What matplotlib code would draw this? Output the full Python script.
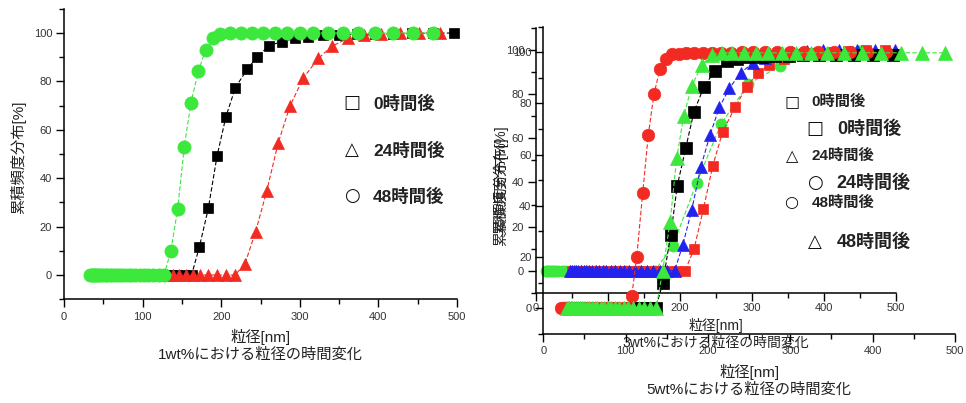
import matplotlib
matplotlib.use("Agg")
import matplotlib.pyplot as plt
from matplotlib.ticker import MultipleLocator

plt.rcParams['font.family'] = ['Liberation Sans', 'Noto Sans CJK JP', 'DejaVu Sans']

# ---------------- data: left chart (1wt%) ----------------
left_sq_x = [59.3, 63.0, 66.8, 70.9, 75.2, 79.8, 84.6, 89.8, 95.3, 101.1, 107.2, 113.8, 120.7, 128.1,
             135.9, 144.2, 153.0, 162.3, 172.2, 183.6, 194.6, 206.0, 218.0, 233.0, 246.0, 261.0,
             277.0, 294.0, 310.0, 329.0, 350.0, 373.0, 396.0, 419.0, 443.0, 470.0, 496.0]
left_sq_y = [0, 0, 0, 0, 0, 0, 0, 0, 0, 0, 0, 0, 0, 0, 0, 0, 0, 0,
             11.6, 27.5, 49.0, 65.4, 77.4, 85.0, 90.2, 94.8, 96.4, 97.8, 98.5, 99.0, 99.3, 99.4,
             99.5, 99.6, 99.8, 99.9, 100.0]

left_tri_x = [59.4, 62.9, 66.5, 70.4, 74.5, 78.8, 83.4, 88.2, 93.3, 98.7, 104.5, 110.5, 116.9, 123.7,
              130.9, 138.5, 146.5, 155.0, 164.0, 173.5, 183.6, 194.2, 205.5, 217.4,
              230.0, 243.8, 258.0, 272.6, 287.5, 304.4, 323.5, 341.3, 360.9, 381.6, 403.7, 427.0,
              451.8, 478.0]
left_tri_y = [0, 0, 0, 0, 0, 0, 0, 0, 0, 0, 0, 0, 0, 0, 0, 0, 0, 0, 0, 0, 0, 0, 0, 0,
              4.4, 17.9, 34.8, 54.7, 69.8, 81.4, 89.5, 94.6, 97.8, 99.0, 99.5, 99.8, 100.0, 100.0]

left_ci_x = [33.0, 35.0, 37.0, 39.1, 41.3, 43.7, 46.2, 48.9, 51.7, 54.7, 57.9, 61.2, 64.8, 68.5, 72.5,
             76.7, 81.1, 85.8, 90.8, 96.1, 101.6, 107.5, 113.7, 120.3, 127.3,
             136.0, 144.6, 153.0, 161.5, 170.9, 180.2, 190.0, 198.5, 211.2, 224.8, 238.8, 253.5,
             268.4, 283.3, 300.2, 317.2, 336.3, 355.4, 374.4, 395.7, 419.0, 444.4, 469.8]
left_ci_y = [0, 0, 0, 0, 0, 0, 0, 0, 0, 0, 0, 0, 0, 0, 0, 0, 0, 0, 0, 0, 0, 0, 0, 0, 0,
             10.0, 27.3, 52.9, 71.2, 84.2, 93.0, 97.8, 99.6, 100, 100, 100, 100, 100, 100, 100,
             100, 100, 100, 100, 100, 100, 100, 100]

# ---------------- data: right chart, inner (3wt%) ----------------
inner_tri_x = [47.0, 49.8, 52.7, 55.7, 58.9, 62.4, 66.0, 69.8, 73.9, 78.1, 82.7, 87.5, 92.5, 97.9,
               103.6, 109.6, 116.0, 122.7, 129.8, 137.3, 145.3, 153.7, 162.6, 172.0, 182.0, 192.6,
               203.8, 216.3, 228.8, 241.7, 254.6, 268.5, 284.3, 301.0, 318.0, 336.0, 355.1, 375.9,
               398.1, 421.2, 445.4, 470.8, 498.6]
inner_tri_y = [0, 0, 0, 0, 0, 0, 0, 0, 0, 0, 0, 0, 0, 0, 0, 0, 0, 0, 0, 0, 0, 0, 0, 0, 0, 0,
               11.6, 27.5, 46.9, 61.5, 74.0, 82.6, 89.7, 94.0, 96.5, 98.0, 99.0, 99.5, 99.8, 100,
               100, 100, 100]

inner_sq_x = [50.5, 53.5, 56.6, 59.9, 63.3, 67.0, 70.9, 75.0, 79.4, 84.0, 88.8, 94.0, 99.4, 105.2,
              111.3, 117.8, 124.6, 131.8, 139.5, 147.6, 156.1, 165.2, 174.8, 184.9, 195.7, 207.0,
              219.4, 232.4, 245.4, 259.3, 276.4, 292.6, 308.8, 324.0, 345.0, 366.0, 388.0, 411.0,
              434.0, 459.0, 485.0]
inner_sq_y = [0, 0, 0, 0, 0, 0, 0, 0, 0, 0, 0, 0, 0, 0, 0, 0, 0, 0, 0, 0, 0, 0, 0, 0, 0, 0,
              9.7, 27.8, 47.4, 63.0, 74.0, 83.4, 89.7, 93.2, 96.0, 97.5, 98.5, 99.2, 99.6, 100, 100]

inner_ci_x = [13.4, 15.4, 17.7, 20.3, 23.4, 26.9, 30.9, 35.5, 40.8, 47.0, 54.0, 62.1, 71.4, 82.1,
              94.4, 108.6, 124.9, 143.6, 165.1, 189.9, 223.2, 257.0, 294.9, 338.9, 390.0, 449.0]
inner_ci_y = [0, 0, 0, 0, 0, 0, 0, 0, 0, 0, 0, 0, 0, 0, 0, 0, 0, 0, 0,
              11.2, 39.9, 66.5, 84.6, 92.8, 97.5, 99.5]

# ---------------- data: right chart, outer (5wt%) ----------------
outer_sq_x = [107.4, 114.0, 121.1, 128.6, 136.5, 145.0, 154.7, 162.7, 172.9, 183.0, 195.2, 208.5,
              222.7, 235.5, 250.0, 265.0, 281.0, 298.0, 316.0, 335.0, 355.0, 377.0, 400.0, 425.0]
outer_sq_y = [0, 0, 0, 0, 0, 9.8, 28.6, 47.9, 62.5, 76.8, 86.6, 92.8, 96.7, 97.5, 98.0, 98.3,
              98.5, 98.7, 98.8, 98.9, 99.0, 99.0, 99.0, 99.0]

outer_ci_x = [22.1, 23.4, 24.7, 26.0, 27.5, 29.0, 30.7, 32.4, 34.2, 36.1, 38.1, 40.3, 42.5, 44.9,
              47.4, 50.1, 52.9, 55.8, 59.0, 62.3, 65.8, 69.4, 73.3, 77.4, 81.8, 86.4, 91.2, 96.3,
              101.7, 107.4, 113.4, 120.7, 127.5, 134.4, 141.7, 149.0, 155.9, 164.6, 173.8, 183.6,
              193.9, 204.7, 216.2, 228.3, 241.0, 254.5, 268.8, 283.8, 299.7, 316.5, 334.2, 352.9,
              372.7, 393.5, 415.6]
outer_ci_y = [0, 0, 0, 0, 0, 0, 0, 0, 0, 0, 0, 0, 0, 0, 0, 0, 0, 0, 0, 0, 0, 0, 0, 0, 0, 0, 0, 0, 0,
              4.8, 19.9, 45.0, 67.7, 83.7, 93.5, 97.3, 99.2, 99.5, 99.6, 99.7, 99.8, 99.8, 99.9,
              99.9, 100, 100, 100, 100, 100, 100, 100, 100, 100, 100, 100]

outer_tri_x = [28.2, 29.9, 31.6, 33.4, 35.4, 37.4, 39.6, 41.9, 44.3, 46.9, 49.6, 52.5, 55.6, 58.8,
               62.2, 65.8, 69.7, 73.7, 78.0, 82.5, 87.3, 92.3, 97.7, 103.4, 109.4, 115.7, 122.4,
               129.5, 137.0, 145.0, 154.0, 162.0, 170.5, 180.5, 192.4, 204.5, 216.7, 229.6, 243.3,
               257.8, 273.2, 289.5, 306.8, 325.1, 344.5, 365.1, 386.9, 410.0, 434.5, 460.4, 487.8]
outer_tri_y = [0, 0, 0, 0, 0, 0, 0, 0, 0, 0, 0, 0, 0, 0, 0, 0, 0, 0, 0, 0, 0, 0, 0, 0, 0, 0, 0, 0, 0,
               14.7, 33.8, 58.6, 75.2, 87.0, 95.0, 99.0, 99.8, 99.8, 99.8, 99.8, 99.8, 99.8, 99.8,
               99.8, 99.8, 99.8, 99.8, 99.8, 99.8, 99.8, 99.8]

legend_labels = ['0時間後', '24時間後', '48時間後']
x_label = '粒径[nm]'
y_label = '累積頻度分布[%]'
title_left = '1wt%における粒径の時間変化'
title_inner = '3wt%における粒径の時間変化'
title_outer = '5wt%における粒径の時間変化'

GREEN = '#3be83b'
RED = '#f22a22'
BLUE = '#2222ee'
BLACK = '#000000'
TICKC = '#333333'

W, H = 966, 403
fig = plt.figure(figsize=(W / 100, H / 100), dpi=100)


def box(x0, x1, ytop, ybot):
    return [x0 / W, 1 - ybot / H, (x1 - x0) / W, (ybot - ytop) / H]


axL = fig.add_axes(box(64, 457, 8.8, 299.2))
axI = fig.add_axes(box(536, 896, 27.9, 292.8))
axO = fig.add_axes(box(543.3, 955, 26.7, 333.9))


def style(ax, xpad, fs=8):
    ax.patch.set_alpha(0)
    for s in ('top', 'right'):
        ax.spines[s].set_visible(False)
    for s in ('left', 'bottom'):
        ax.spines[s].set_linewidth(1.1)
    ax.set_xlim(0, 500)
    ax.set_ylim(-10, 110)
    ax.xaxis.set_major_locator(MultipleLocator(100))
    ax.xaxis.set_minor_locator(MultipleLocator(50))
    ax.yaxis.set_major_locator(MultipleLocator(20))
    ax.yaxis.set_minor_locator(MultipleLocator(10))
    ax.tick_params(which='major', direction='out', length=6, width=1.0, labelsize=fs,
                   labelcolor=TICKC)
    ax.tick_params(which='minor', direction='out', length=3.5, width=1.0)
    ax.tick_params(axis='x', which='major', pad=xpad)
    ax.tick_params(axis='y', which='major', pad=2.5)


def series(ax, x, y, color, marker, ms, z):
    ax.plot(x, y, color=color, lw=0.8, ls=(0, (4, 2)), marker=marker, ms=ms,
            mfc=color, mec=color, mew=0.5, zorder=z, clip_on=False)


def legend_text(ax, gx, tx, ys, glyphs, fs_g, fs_t):
    for g, lab, yy in zip(glyphs, legend_labels, ys):
        ax.text(gx, yy, g, transform=ax.transAxes, ha='center', va='center',
                fontsize=fs_g, family='DejaVu Sans', fontweight='bold', color='#111111')
        ax.text(tx, yy, lab, transform=ax.transAxes, ha='left', va='center',
                fontsize=fs_t, fontweight='bold', color='#222222')


# ---- left chart ----
style(axL, 3)
series(axL, left_sq_x, left_sq_y, BLACK, 's', 7.5, 3)
series(axL, left_tri_x, left_tri_y, RED, '^', 9, 4)
series(axL, left_ci_x, left_ci_y, GREEN, 'o', 9.5, 5)
axL.set_ylabel(y_label, fontsize=11, color='#222222')
axL.yaxis.set_label_coords(-0.095, 0.49)
axL.text(0.5, -0.130, x_label, transform=axL.transAxes, ha='center', va='center', fontsize=11,
         color='#222222')
axL.text(0.5, -0.192, title_left, transform=axL.transAxes, ha='center', va='center', fontsize=11,
         color='#222222')
legend_text(axL, 0.733, 0.786, [0.676, 0.514, 0.355], ['□', '△', '○'], 13, 12.5)

# ---- right chart: inner ----
style(axI, 1.5)
series(axI, inner_ci_x, inner_ci_y, GREEN, 'o', 8, 3)
series(axI, inner_sq_x, inner_sq_y, RED, 's', 6.5, 4)
series(axI, inner_tri_x, inner_tri_y, BLUE, '^', 8, 5)
axI.set_ylabel(y_label, fontsize=10.5, color='#222222')
axI.yaxis.set_label_coords((508 - 536) / 360, (292.8 - 180) / 264.9)
axI.text(0.5, -0.1216, x_label, transform=axI.transAxes, ha='center', va='center', fontsize=10,
         color='#222222')
axI.text(0.5, -0.1895, title_inner, transform=axI.transAxes, ha='center', va='center',
         fontsize=10, color='#222222')
legend_text(axI, 0.710, 0.766, [0.721, 0.516, 0.340], ['□', '△', '○'], 11.5, 11)

# ---- right chart: outer ----
style(axO, 3)
series(axO, outer_sq_x, outer_sq_y, BLACK, 's', 8.5, 3)
series(axO, outer_ci_x, outer_ci_y, RED, 'o', 9, 4)
series(axO, outer_tri_x, outer_tri_y, GREEN, '^', 10, 5)
axO.set_ylabel(y_label, fontsize=10.5, color='#222222')
axO.yaxis.set_label_coords((508 - 543.3) / 411.7, (333.9 - 192) / 307.2)
axO.text(0.5, -0.123, x_label, transform=axO.transAxes, ha='center', va='center', fontsize=11,
         color='#222222')
axO.text(0.5, -0.1826, title_outer, transform=axO.transAxes, ha='center', va='center',
         fontsize=11, color='#222222')
legend_text(axO, 0.660, 0.713, [0.666, 0.492, 0.300], ['□', '○', '△'], 13, 13)

fig.savefig('out.png', dpi=100, facecolor='white')
